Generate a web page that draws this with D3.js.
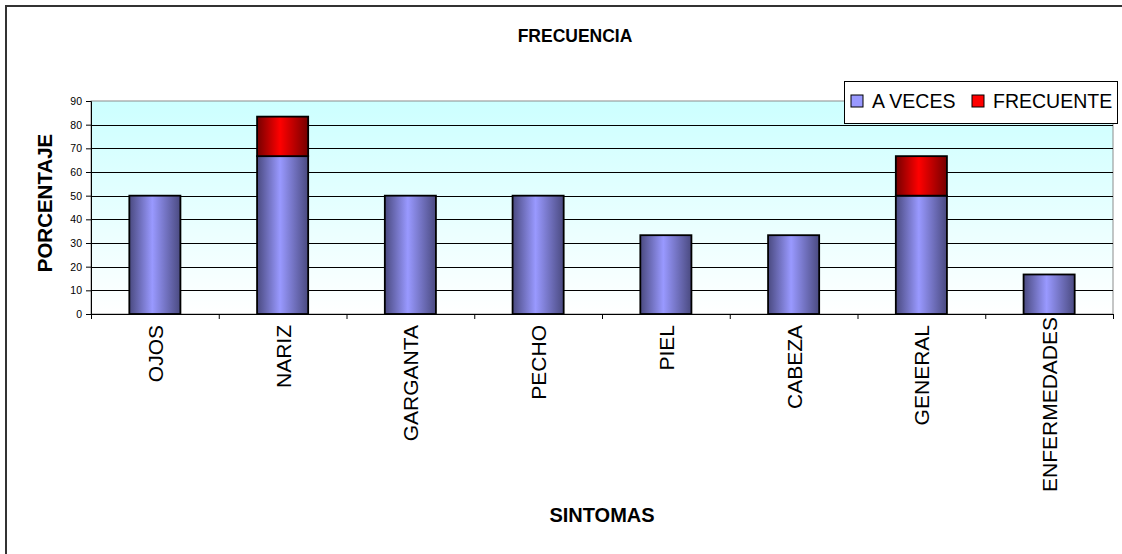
<!DOCTYPE html>
<html>
<head>
<meta charset="utf-8">
<script src="https://cdn.jsdelivr.net/npm/d3@7"></script>
<style>
  body { margin: 0; background: #fff; }
  text { font-family: "Liberation Sans", Arial, sans-serif; }
</style>
</head>
<body>
<div id="chart"></div>
<script>
const categorias = ["OJOS", "NARIZ", "GARGANTA", "PECHO", "PIEL", "CABEZA", "GENERAL", "ENFERMEDADES"];
const aVeces = [50, 66.7, 50, 50, 33.3, 33.3, 50, 16.7];
const frecuente = [0, 16.7, 0, 0, 0, 0, 16.7, 0];
const series = ["A VECES", "FRECUENTE"];
const yTicks = [0, 10, 20, 30, 40, 50, 60, 70, 80, 90];

const width = 1122, height = 554;
const margin = { top: 101, bottom: 240, left: 91, right: 9 };

const svg = d3.select('#chart')
    .append('svg')
    .attr('width', width)
    .attr('height', height);

const defs = svg.append("defs");

function gradient(id, edge, mid) {
    const g = defs.append("linearGradient").attr("id", id)
        .attr("x1", "0%").attr("y1", "0%").attr("x2", "100%").attr("y2", "0%");
    g.append("stop").attr("offset", "0%").attr("stop-color", edge);
    g.append("stop").attr("offset", "45%").attr("stop-color", mid);
    g.append("stop").attr("offset", "100%").attr("stop-color", edge);
}
gradient("gBlue", "#4a4a80", "#9999ff");
gradient("gRed", "#750000", "#ff0000");

const bg = defs.append("linearGradient").attr("id", "gBg")
    .attr("x1", "0%").attr("y1", "0%").attr("x2", "0%").attr("y2", "100%");
bg.append("stop").attr("offset", "0%").attr("stop-color", "#ccffff");
bg.append("stop").attr("offset", "100%").attr("stop-color", "#ffffff");

// chart border (right and bottom lie outside the picture)
svg.append("rect")
    .attr("x", 6).attr("y", 6)
    .attr("width", 1300).attr("height", 700)
    .attr("fill", "none").attr("stroke", "#333").attr("stroke-width", 2);

const x = d3.scaleBand()
    .domain(categorias)
    .range([margin.left, width - margin.right])
    .paddingInner(0.6)
    .paddingOuter(0.3);

const xEdge = d3.scaleLinear()
    .domain([0, categorias.length])
    .range([margin.left, width - margin.right]);

const y = d3.scaleLinear()
    .domain([0, 90])
    .range([height - margin.bottom, margin.top]);

// plot background
svg.append("rect")
    .attr("x", margin.left).attr("y", y(90))
    .attr("width", width - margin.right - margin.left)
    .attr("height", y(0) - y(90))
    .attr("fill", "url(#gBg)")
    .attr("stroke", "#8c8c8c");

// grid lines
svg.append("g")
    .selectAll("line")
    .data(yTicks.filter(d => d > 0 && d < 90))
    .join("line")
    .attr("x1", margin.left).attr("x2", width - margin.right)
    .attr("y1", d => Math.round(y(d)) + 0.5).attr("y2", d => Math.round(y(d)) + 0.5)
    .attr("stroke", "#000").attr("stroke-width", 1);

// stacked bars
const tabla = categorias.map((c, i) => ({ cat: c, "A VECES": aVeces[i], "FRECUENTE": frecuente[i] }));
const stacked = d3.stack().keys(series)(tabla);
const fills = ["url(#gBlue)", "url(#gRed)"];

svg.append("g")
    .selectAll("g")
    .data(stacked)
    .join("g")
    .attr("fill", (d, i) => fills[i])
    .selectAll("rect")
    .data(d => d.filter(p => p[1] - p[0] > 0))
    .join("rect")
    .attr("x", d => x(d.data.cat))
    .attr("y", d => y(d[1]))
    .attr("width", x.bandwidth())
    .attr("height", d => y(d[0]) - y(d[1]))
    .attr("stroke", "#000")
    .attr("stroke-width", 1.8);

// y axis
function yAxis(g) {
    g.attr("transform", `translate(${margin.left}, 0)`)
        .call(d3.axisLeft(y).tickValues(yTicks).tickSize(5).tickPadding(4))
        .attr("font-size", '10.5px')
        .attr("font-family", '"Liberation Sans", Arial, sans-serif');
    g.select(".domain").attr("stroke", "#000");
}
svg.append("g").call(yAxis);

// x axis
function xAxis(g) {
    g.attr("transform", `translate(0,${y(0)})`)
        .call(d3.axisBottom(xEdge).ticks(categorias.length).tickSize(5).tickFormat(""));
    g.select(".domain").attr("stroke", "#000");
}
svg.append("g").call(xAxis);

svg.append("g")
    .selectAll("text")
    .data(categorias)
    .join("text")
    .attr("transform", d => `translate(${x(d) + x.bandwidth() / 2 + 8},${d.length > 10 ? 317 : 325}) rotate(-90)`)
    .attr("text-anchor", "end")
    .attr("font-size", "21px")
    .text(d => d);

// titles
svg.append("text")
    .attr("x", 575).attr("y", 42)
    .attr("text-anchor", "middle")
    .attr("font-size", "17.5px").attr("font-weight", "bold")
    .text("FRECUENCIA");

svg.append("text")
    .attr("x", 602).attr("y", 522)
    .attr("text-anchor", "middle")
    .attr("font-size", "20px").attr("font-weight", "bold")
    .text("SINTOMAS");

svg.append("text")
    .attr("transform", "translate(52,203) rotate(-90)")
    .attr("text-anchor", "middle")
    .attr("font-size", "20.5px").attr("font-weight", "bold")
    .text("PORCENTAJE");

// legend
const legend = svg.append("g").attr("transform", "translate(844,81)");
legend.append("rect")
    .attr("x", 0.5).attr("y", 0.5).attr("width", 273).attr("height", 42)
    .attr("fill", "#fff").attr("stroke", "#000");
const legendColors = ["#9999ff", "#ff0000"];
const legendX = [7, 128];
series.forEach((s, i) => {
    legend.append("rect")
        .attr("x", legendX[i]).attr("y", 14)
        .attr("width", 12).attr("height", 12)
        .attr("fill", legendColors[i]).attr("stroke", "#000");
    legend.append("text")
        .attr("x", legendX[i] + 21).attr("y", 27)
        .attr("font-size", "19.5px")
        .text(s);
});
</script>
</body>
</html>
